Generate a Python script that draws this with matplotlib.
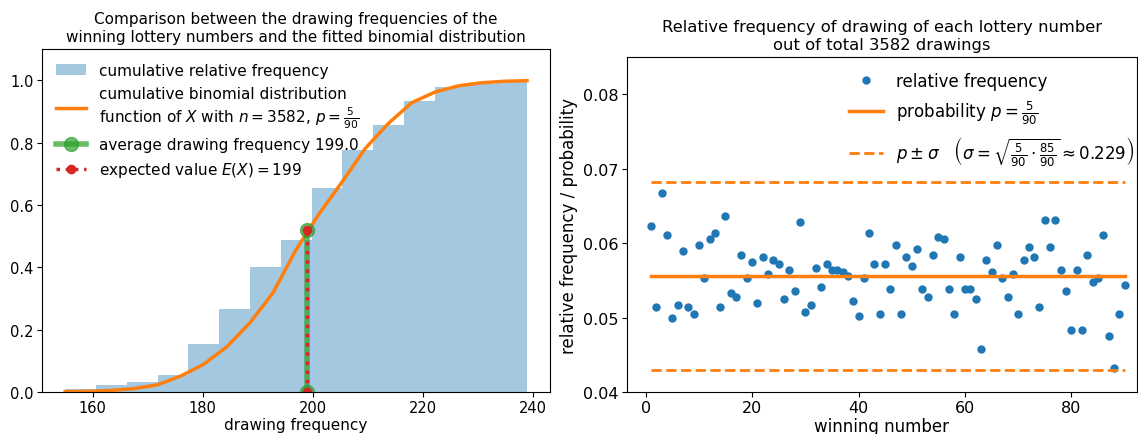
import numpy as np
import matplotlib
matplotlib.use("Agg")
import matplotlib.pyplot as plt

# drawing frequency of each lottery number 1..90 (out of 3582 drawings, 5 numbers each)
numbers = list(range(1, 91))
counts = [223, 184, 239, 219, 179, 185, 211, 184, 181, 214,
          198, 217, 220, 184, 228, 191, 189, 209, 198, 206,
          186, 208, 200, 207, 205, 188, 202, 192, 225, 182,
          185, 203, 194, 205, 202, 202, 201, 199, 187, 180,
          198, 220, 205, 181, 205, 193, 214, 181, 208, 204,
          212, 193, 189, 209, 218, 217, 193, 181, 208, 193,
          193, 188, 164, 207, 201, 214, 198, 189, 200, 181,
          207, 213, 208, 184, 226, 213, 226, 202, 192, 173,
          202, 173, 209, 196, 198, 219, 170, 155, 181, 195]
n_drawings = 3582

# cumulative binomial distribution
binom_x = [155.0, 159.2, 163.4, 167.6, 171.8, 176.0, 180.2, 184.4, 188.6, 192.8, 197.0,
           201.2, 205.4, 209.6, 213.8, 218.0, 222.2, 226.4, 230.6, 234.8, 239.0]
binom_cdf = [0.001, 0.002, 0.005, 0.011, 0.023, 0.051, 0.089, 0.145, 0.222, 0.318, 0.457,
             0.572, 0.675, 0.782, 0.862, 0.928, 0.962, 0.982, 0.992, 0.997, 0.999]
cdf_at_mean = 0.52
expected = 199

p = 5 / 90
sigma_band = [0.0430, 0.0682]

counts = np.array(counts)
rel_freq = counts / n_drawings
mean_freq = counts.mean()

fig = plt.figure(figsize=(11.38, 4.35), dpi=100)
ax1 = fig.add_axes([0.037, 0.0966, 0.4464, 0.788])
ax2 = fig.add_axes([0.551, 0.0966, 0.448, 0.770])

# left: cumulative histogram vs binomial cdf
h = ax1.hist(counts, bins=15, cumulative=True, weights=np.ones(len(counts)) / len(counts),
             color='tab:blue', alpha=0.4)
l1, = ax1.plot(binom_x, binom_cdf, color='tab:orange', lw=2.5)
l2, = ax1.plot([mean_freq, mean_freq], [0, cdf_at_mean], color='tab:green', marker='o',
               lw=4, ms=10, alpha=0.7)
l3, = ax1.plot([expected, expected], [0, cdf_at_mean], color='tab:red', ls=':', marker='o',
               lw=2.5, ms=6)
ax1.set_ylim(0, 1.1)
ax1.set_xlabel('drawing frequency', fontsize=11, labelpad=1)
ax1.set_title('Comparison between the drawing frequencies of the\n'
              'winning lottery numbers and the fitted binomial distribution', fontsize=11)
ax1.tick_params(labelsize=10.5, pad=2.5)
ax1.legend([h[2][0], l1, l2, l3],
           ['cumulative relative frequency',
            'cumulative binomial distribution\nfunction of $X$ with $n=3582$, $p=\\frac{5}{90}$',
            f'average drawing frequency {mean_freq:.1f}',
            'expected value $E(X)=199$'],
           loc='upper left', frameon=False, fontsize=11)

# right: relative frequency per number
ax2.plot(numbers, rel_freq, 'o', color='tab:blue', ms=5, label='relative frequency')
ax2.plot([numbers[0], numbers[-1]], [p, p], color='tab:orange', lw=2.5,
         label='probability $p=\\frac{5}{90}$')
ax2.plot([numbers[0], numbers[-1]], [sigma_band[1], sigma_band[1]], color='tab:orange', ls='--', lw=2,
         label='$p\\pm\\sigma\\quad\\left(\\sigma=\\sqrt{\\frac{5}{90}\\cdot\\frac{85}{90}}\\approx0.229\\right)$')
ax2.plot([numbers[0], numbers[-1]], [sigma_band[0], sigma_band[0]], color='tab:orange', ls='--', lw=2)
ax2.set_xlim(-3.5, 92.3)
ax2.set_ylim(0.04, 0.085)
ax2.set_xticks([0, 20, 40, 60, 80])
ax2.set_yticks([0.04, 0.05, 0.06, 0.07, 0.08])
ax2.set_xlabel('winning number', fontsize=12, labelpad=1)
ax2.set_ylabel('relative frequency / probability', fontsize=12)
ax2.set_title('Relative frequency of drawing of each lottery number\nout of total 3582 drawings', fontsize=11.8)
ax2.tick_params(labelsize=11.5, pad=2.5)
ax2.legend(loc='upper right', bbox_to_anchor=(1.024, 1.0), frameon=False, fontsize=12)

fig.savefig('out.png', dpi=100)
